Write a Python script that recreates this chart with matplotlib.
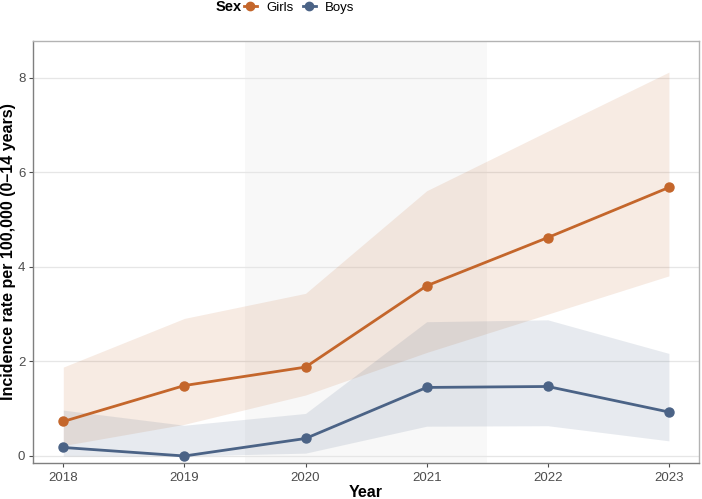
import numpy as np
import matplotlib
matplotlib.use("Agg")
import matplotlib.pyplot as plt
from matplotlib.lines import Line2D

# data
years = [2018, 2019, 2020, 2021, 2022, 2023]
girls = [0.73, 1.49, 1.88, 3.60, 4.62, 5.68]
girls_lo = [0.22, 0.67, 1.29, 2.19, 3.00, 3.81]
girls_hi = [1.88, 2.91, 3.44, 5.61, 6.87, 8.12]
boys = [0.18, 0.00, 0.37, 1.45, 1.47, 0.93]
boys_lo = [0.00, 0.00, 0.06, 0.63, 0.64, 0.32]
boys_hi = [0.97, 0.65, 0.90, 2.84, 2.88, 2.17]
shade_span = (2019.5, 2021.5)

GIRL_COL = "#c4662b"
BOY_COL = "#4b6386"

plt.rcParams['font.family'] = ['Liberation Sans', 'DejaVu Sans']

fig = plt.figure(figsize=(7.02, 4.99), dpi=100)
ax = fig.add_axes([0.047, 0.072, 0.949, 0.846])

ax.axvspan(*shade_span, color="#f8f8f8", lw=0, zorder=0)

ax.fill_between(years, girls_lo, girls_hi, color=GIRL_COL, alpha=0.13, lw=0, zorder=1)
ax.fill_between(years, boys_lo, boys_hi, color=BOY_COL, alpha=0.13, lw=0, zorder=1)
ax.plot(years, girls, color=GIRL_COL, lw=2, marker="o", ms=6.5, zorder=3)
ax.plot(years, boys, color=BOY_COL, lw=2, marker="o", ms=6.5, zorder=3)

ax.set_xlim(2017.75, 2023.25)
ax.set_ylim(-0.15, 8.78)
ax.set_xticks(years)
ax.set_yticks([0, 2, 4, 6, 8])
ax.grid(axis="y", color="#e6e6e6", lw=0.9, zorder=0)
ax.set_axisbelow(True)
ax.tick_params(axis="both", colors="#4d4d4d", labelsize=9.5, length=3, width=0.8,
               labelcolor="#4d4d4d")
ax.tick_params(axis="y", pad=2.5)
for side in ["top", "right"]:
    ax.spines[side].set_color("#b3b3b3")
for side in ["left", "bottom"]:
    ax.spines[side].set_color("#7f7f7f")
for sp in ax.spines.values():
    sp.set_linewidth(1.0)

ax.set_xlabel("Year", fontsize=11.5, fontweight="bold", labelpad=1)
ax.set_ylabel("Incidence rate per 100,000 (0\u201314 years)", fontsize=11.5,
              fontweight="bold")
ax.yaxis.set_label_coords(-0.026, 0.5)

fig.text(0.307, 0.985, "Sex", fontsize=10.5, fontweight="bold", ha="left", va="center")
handles = [Line2D([], [], color=GIRL_COL, lw=2, marker="o", ms=6),
           Line2D([], [], color=BOY_COL, lw=2, marker="o", ms=6)]
fig.legend(handles, ["Girls", "Boys"], loc="center left", bbox_to_anchor=(0.347, 0.985),
           ncol=2, frameon=False, fontsize=9.5, handlelength=1.0, handletextpad=0.7,
           columnspacing=0.7, borderpad=0, borderaxespad=0)

fig.savefig("out.png", dpi=100)
